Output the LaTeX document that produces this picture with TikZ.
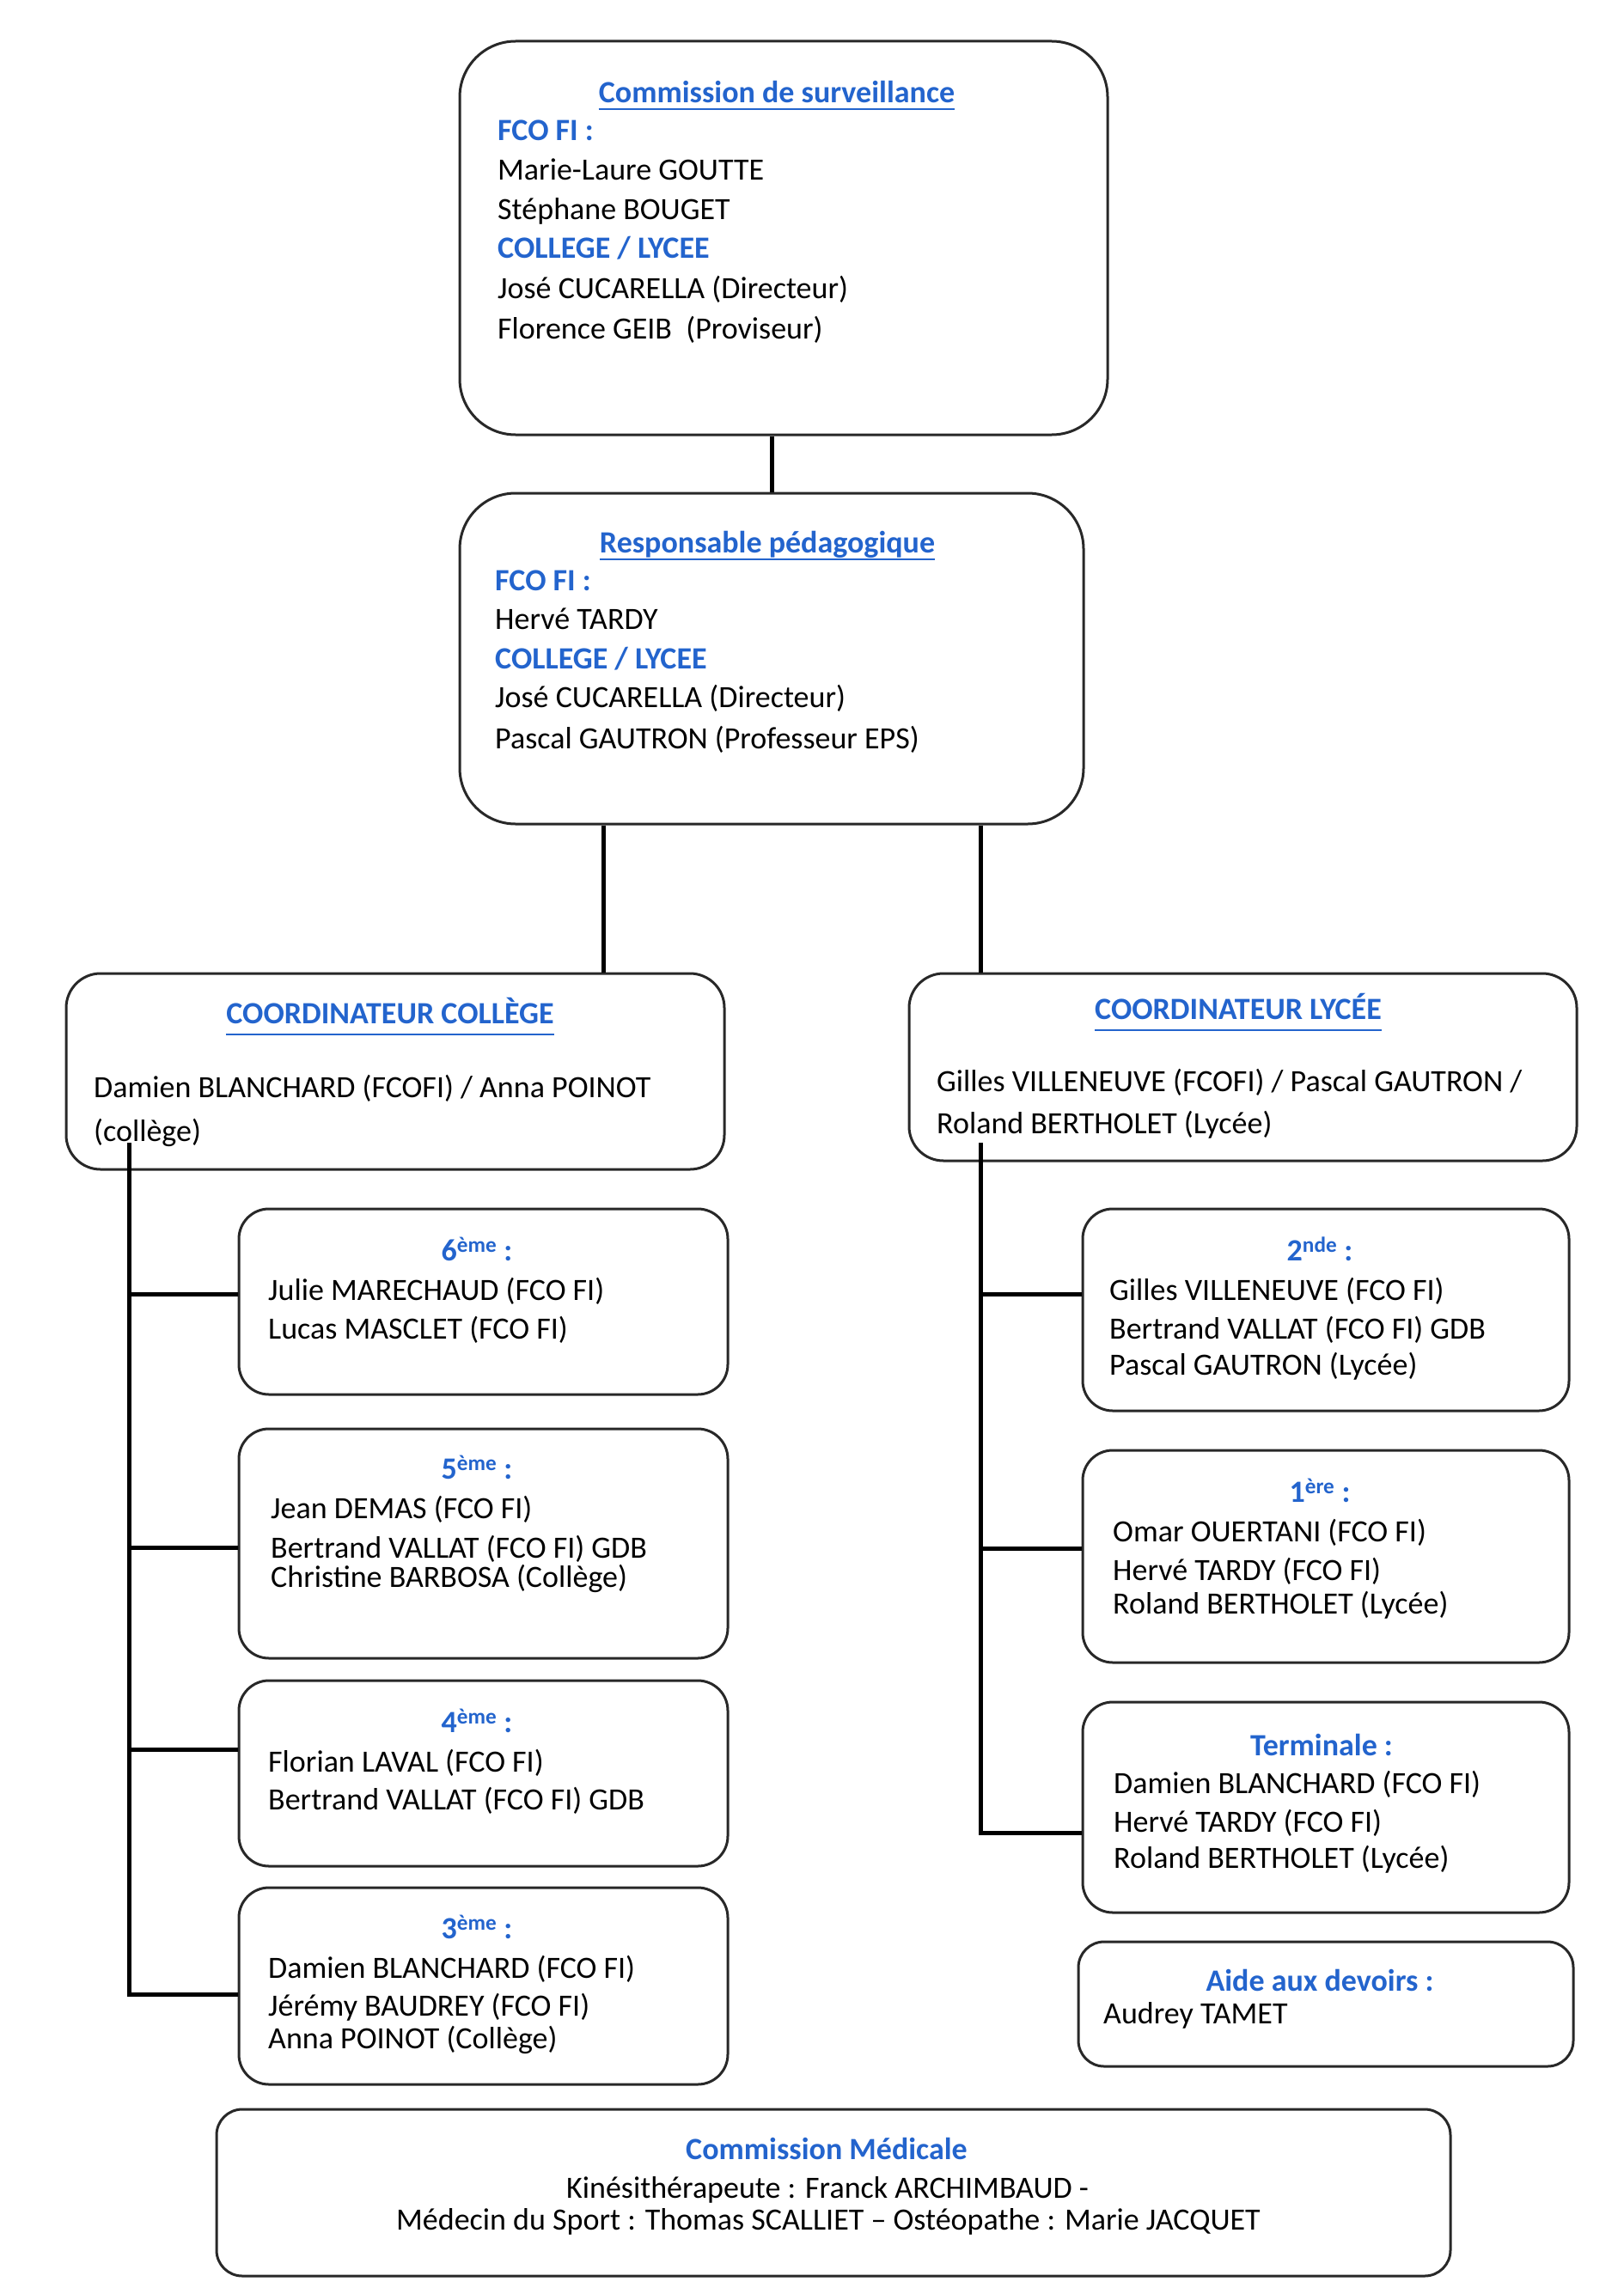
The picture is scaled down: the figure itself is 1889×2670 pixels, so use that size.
\documentclass[tikz,border=0pt]{standalone}
\usepackage{fontspec}
\setmainfont{Carlito}
\usetikzlibrary{calc}
\definecolor{hblue}{RGB}{35,100,205}
\definecolor{boxline}{RGB}{40,40,40}
\begin{document}
\begin{tikzpicture}[x=1pt,y=-1pt,
  every node/.style={inner sep=0pt, font=\fontsize{36}{44}\selectfont},
  box/.style={draw=boxline, line width=3pt, rounded corners=#1},
  box/.default=35pt,
  ttl/.style={anchor=base, text=hblue, font=\fontsize{36}{44}\selectfont\bfseries},
  sub/.style={anchor=base west, text=hblue, font=\fontsize{36}{44}\selectfont\bfseries},
  txt/.style={anchor=base west, text=black},
  ctxt/.style={anchor=base, text=black},
  conn/.style={line width=5pt, black},
  uline/.style={line width=2.5pt, hblue}]
\useasboundingbox (0,0) rectangle (1889,2670);

% ---------- boxes ----------
\node[box=65pt, minimum width=754pt, minimum height=458pt] (A) at (912,277) {};
\node[box=65pt, minimum width=726pt, minimum height=385pt] (B) at (898,766.5) {};
\node[box=40pt, minimum width=766pt, minimum height=228pt] (C) at (460,1247) {};
\node[box=40pt, minimum width=777pt, minimum height=218pt] (D) at (1446.5,1242) {};
\node[box, minimum width=569pt, minimum height=216pt] (b6) at (562.5,1515) {};
\node[box, minimum width=569pt, minimum height=267pt] (b5) at (562.5,1796.5) {};
\node[box, minimum width=569pt, minimum height=216pt] (b4) at (562.5,2064) {};
\node[box, minimum width=569pt, minimum height=229pt] (b3) at (562.5,2311.5) {};
\node[box, minimum width=566pt, minimum height=235pt] (b2) at (1543,1524.5) {};
\node[box, minimum width=566pt, minimum height=247pt] (b1) at (1543,1811.5) {};
\node[box, minimum width=566pt, minimum height=245pt] (bT) at (1543,2103.5) {};
\node[box=30pt, minimum width=576pt, minimum height=145pt] (bA) at (1543,2332.5) {};
\node[box=30pt, minimum width=1436pt, minimum height=194pt] (bM) at (970,2552) {};

% ---------- connectors ----------
\coordinate (xA) at (898,0);
\coordinate (xL) at (702,0);
\coordinate (xR) at (1141,0);
\coordinate (cL) at (150,1330);
\coordinate (cR) at (1141,1330);
\draw[conn] (A.south -| xA) -- (B.north -| xA);
\draw[conn] (B.south -| xL) -- (C.north -| xL);
\draw[conn] (B.south -| xR) -- (D.north -| xR);
\draw[conn] (cL) |- ([yshift=9pt]b6.west);
\draw[conn] (cL) |- ([yshift=-5pt]b5.west);
\draw[conn] (cL) |- ([yshift=28pt]b4.west);
\draw[conn] (cL) |- ([yshift=-10pt]b3.west);
\draw[conn] (cR) |- ([yshift=18pt]b2.west);
\draw[conn] (cR) |- ([yshift=9pt]b1.west);
\draw[conn] (cR) |- ([yshift=-30pt]bT.west);

% ---------- Commission de surveillance ----------
\node[ttl] (tA) at (904,120) {Commission de surveillance};
\draw[uline] ([yshift=-7pt]tA.base west) -- ([yshift=-7pt]tA.base east);
\node[sub] (a1) at (579,164) {FCO FI :};
\node[txt] (a2) at (579,210) {Marie-Laure GOUTTE};
\node[txt] (a3) at (579,256) {Stéphane BOUGET};
\node[sub] (a4) at (579,301) {COLLEGE / LYCEE};
\node[txt] (a5) at (579,348) {José CUCARELLA (Directeur)};
\node[txt] (a6) at (579,394) {Florence GEIB\ \ (Proviseur)};

% ---------- Responsable pédagogique ----------
\node[ttl] (tB) at (893,643) {Responsable pédagogique};
\draw[uline] ([yshift=-8pt]tB.base west) -- ([yshift=-8pt]tB.base east);
\node[sub] (p1) at (576,687) {FCO FI :};
\node[txt] (p2) at (576,732) {Hervé TARDY};
\node[sub] (p3) at (576,778) {COLLEGE / LYCEE};
\node[txt] (p4) at (576,823) {José CUCARELLA (Directeur)};
\node[txt] (p5) at (576,871) {Pascal GAUTRON (Professeur EPS)};

% ---------- Coordinateur collège ----------
\node[ttl] (tC) at (454,1191) {COORDINATEUR COLLÈGE};
\draw[uline] ([yshift=-13pt]tC.base west) -- ([yshift=-13pt]tC.base east);
\node[txt] (c1) at (109,1277) {Damien BLANCHARD (FCOFI) / Anna POINOT};
\node[txt] (c2) at (109,1328) {(collège)};

% ---------- Coordinateur lycée ----------
\node[ttl] (tD) at (1441,1186) {COORDINATEUR LYCÉE};
\draw[uline] ([yshift=-13pt]tD.base west) -- ([yshift=-13pt]tD.base east);
\node[txt] (d1) at (1090,1270) {Gilles VILLENEUVE (FCOFI) / Pascal GAUTRON /};
\node[txt] (d2) at (1090,1319) {Roland BERTHOLET (Lycée)};

% ---------- 6ème ----------
\node[ttl] (t6) at (555,1467) {6\textsuperscript{ème} :};
\node[txt] (s61) at (312,1513) {Julie MARECHAUD (FCO FI)};
\node[txt] (s62) at (312,1558) {Lucas MASCLET (FCO FI)};

% ---------- 5ème ----------
\node[ttl] (t5) at (555,1721) {5\textsuperscript{ème} :};
\node[txt] (s51) at (315,1767) {Jean DEMAS (FCO FI)};
\node[txt] (s52) at (315,1813) {Bertrand VALLAT (FCO FI) GDB};
\node[txt] (s53) at (315,1847) {Christine BARBOSA (Collège)};

% ---------- 4ème ----------
\node[ttl] (t4) at (555,2016) {4\textsuperscript{ème} :};
\node[txt] (s41) at (312,2062) {Florian LAVAL (FCO FI)};
\node[txt] (s42) at (312,2106) {Bertrand VALLAT (FCO FI) GDB};

% ---------- 3ème ----------
\node[ttl] (t3) at (555,2256) {3\textsuperscript{ème} :};
\node[txt] (s31) at (312,2302) {Damien BLANCHARD (FCO FI)};
\node[txt] (s32) at (312,2346) {Jérémy BAUDREY (FCO FI)};
\node[txt] (s33) at (312,2384) {Anna POINOT (Collège)};

% ---------- 2nde ----------
\node[ttl] (t2) at (1536,1467) {2\textsuperscript{nde} :};
\node[txt] (s21) at (1291,1513) {Gilles VILLENEUVE (FCO FI)};
\node[txt] (s22) at (1291,1558) {Bertrand VALLAT (FCO FI) GDB};
\node[txt] (s23) at (1291,1600) {Pascal GAUTRON (Lycée)};

% ---------- 1ère ----------
\node[ttl] (t1) at (1536,1748) {1\textsuperscript{ère} :};
\node[txt] (s11) at (1295,1794) {Omar OUERTANI (FCO FI)};
\node[txt] (s12) at (1295,1839) {Hervé TARDY (FCO FI)};
\node[txt] (s13) at (1295,1878) {Roland BERTHOLET (Lycée)};

% ---------- Terminale ----------
\node[ttl] (tT) at (1538,2043) {Terminale :};
\node[txt] (sT1) at (1296,2087) {Damien BLANCHARD (FCO FI)};
\node[txt] (sT2) at (1296,2132) {Hervé TARDY (FCO FI)};
\node[txt] (sT3) at (1296,2174) {Roland BERTHOLET (Lycée)};

% ---------- Aide aux devoirs ----------
\node[ttl] (tAi) at (1536,2317) {Aide aux devoirs :};
\node[txt] (sA1) at (1284,2355) {Audrey TAMET};

% ---------- Commission médicale ----------
\node[ttl] (tM) at (962,2513) {Commission Médicale};
\node[ctxt] (m1) at (963,2558) {Kinésithérapeute : Franck ARCHIMBAUD -};
\node[ctxt] (m2) at (964,2595) {Médecin du Sport : Thomas SCALLIET – Ostéopathe : Marie JACQUET};
\end{tikzpicture}
\end{document}
